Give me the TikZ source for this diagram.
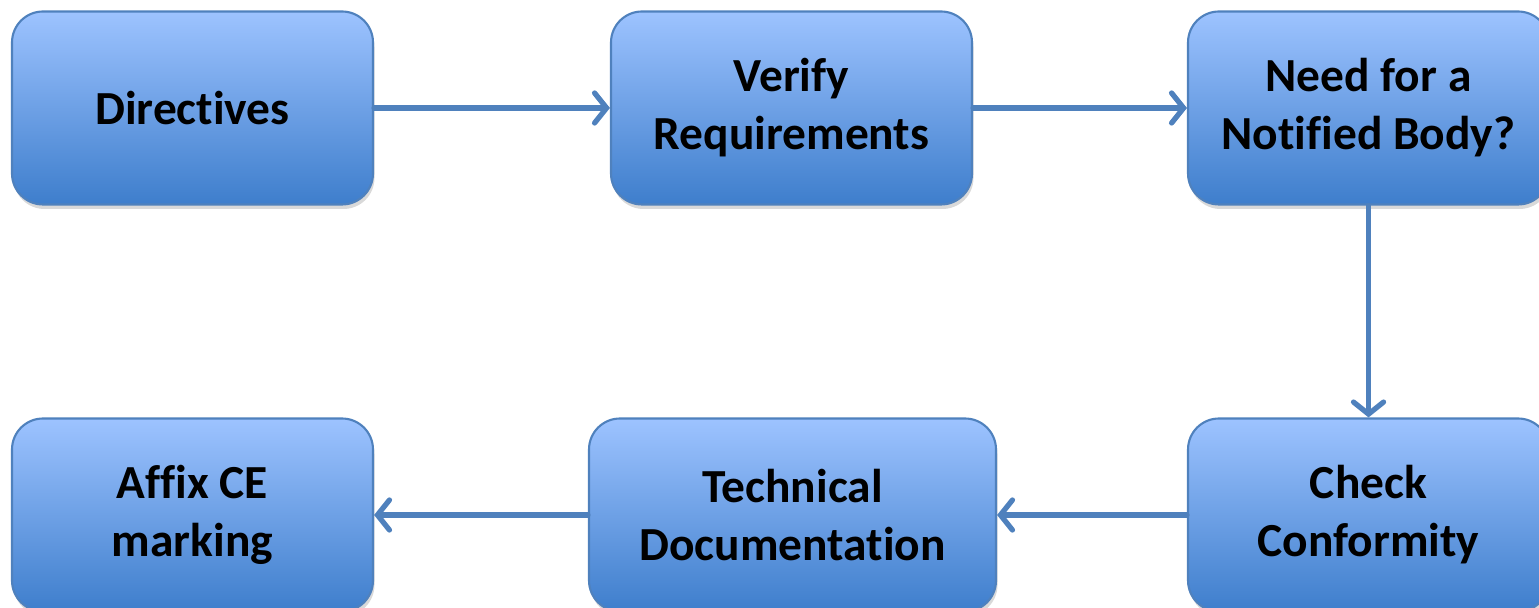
\documentclass[tikz,border=0pt]{standalone}
\usepackage{fontspec}
\setmainfont{Carlito}[Ligatures={NoCommon}]
\usetikzlibrary{arrows.meta,shadows}

\definecolor{boxtop}{RGB}{157,195,255}
\definecolor{boxbot}{RGB}{62,126,204}
\definecolor{boxline}{RGB}{79,129,189}

\begin{document}
\begin{tikzpicture}[
  stepbox/.style={draw=boxline,line width=1.2pt,rounded corners=0.62cm,
    top color=boxtop,bottom color=boxbot,minimum width=7.22cm,minimum height=3.86cm,
    inner sep=0pt,align=center,font=\fontsize{27}{33}\selectfont\bfseries,
    drop shadow={opacity=0.3,shadow xshift=0.03cm,shadow yshift=-0.09cm}},
  flow/.style={draw=boxline,line width=3pt,line cap=round,
    -{Straight Barb[length=0.24cm,width=0.6cm,line cap=round]}}]

  \useasboundingbox (0,0) rectangle (30.78,12.16);

  \node[stepbox] (dir) at (3.85,10.0) {Directives};
  \node[stepbox] (ver) at (15.83,10.0) {Verify\\Requirements};
  \node[stepbox] (nb) at (27.37,10.0) {Need for a\\Notified Body?};
  \node[stepbox] (chk) at (27.37,1.86) {Check\\Conformity};
  \node[stepbox,minimum width=8.14cm] (tech) at (15.85,1.86) {Technical\\Documentation};
  \node[stepbox] (affix) at (3.85,1.86) {Affix CE\\marking};

  \draw[flow] (dir) -- (ver);
  \draw[flow] (ver) -- (nb);
  \draw[flow] (nb) -- (chk);
  \draw[flow] (chk) -- (tech);
  \draw[flow] (tech) -- (affix);

\end{tikzpicture}
\end{document}
